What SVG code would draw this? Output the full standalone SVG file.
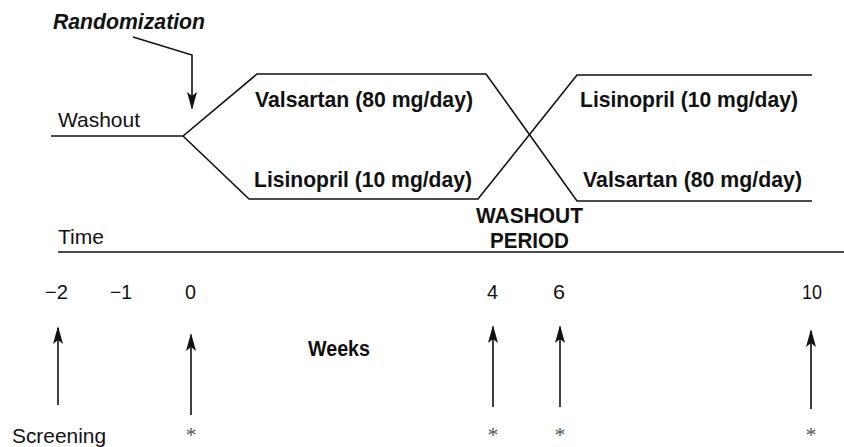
<svg xmlns="http://www.w3.org/2000/svg" width="844" height="447" viewBox="0 0 844 447">
<defs>
<style>
.t{font-family:"Liberation Sans",Arial,sans-serif;fill:#111;}
.b{font-weight:bold;font-size:22px;}
.r{font-size:21px;}
.n{font-size:20px;}
.ln{stroke:#111;stroke-width:1.6;fill:none;}
.ast{font-family:"Liberation Serif","Times New Roman",serif;font-size:22px;fill:#555;text-anchor:middle;}
</style>
<marker id="ah" markerWidth="18" markerHeight="11" refX="16" refY="5.5" orient="auto" markerUnits="userSpaceOnUse" viewBox="0 0 18 11">
<path d="M0,0.5 L4,5.5 L0,10.5 L18,5.5 Z" fill="#111"/>
</marker>
</defs>
<rect width="844" height="447" fill="#fff"/>
<g id="connectors">
<path class="ln" d="M51,136 L183,136 L257,74 L486,74 L577,201 L812,201"/>
<path class="ln" d="M183,136 L249,199 L478,199 L577,75 L812,75"/>
<path class="ln" d="M58,252 L844,252"/>
<path class="ln" d="M133,37 L192,55 L192,108" marker-end="url(#ah)"/>
<path class="ln" d="M58,405 L58,328" marker-end="url(#ah)"/>
<path class="ln" d="M191,415 L191,335" marker-end="url(#ah)"/>
<path class="ln" d="M493,407 L493,327" marker-end="url(#ah)"/>
<path class="ln" d="M560,407 L560,327" marker-end="url(#ah)"/>
<path class="ln" d="M811,409 L811,331" marker-end="url(#ah)"/>
</g>
<g id="randomization"><text class="t b" x="53" y="29" font-style="italic" textLength="152" lengthAdjust="spacingAndGlyphs">Randomization</text></g>
<g id="washout"><text class="t r" x="58" y="127" textLength="82" lengthAdjust="spacingAndGlyphs">Washout</text></g>
<g id="arm1-period1"><text class="t b" x="255" y="107" textLength="218" lengthAdjust="spacingAndGlyphs">Valsartan (80 mg/day)</text></g>
<g id="arm2-period1"><text class="t b" x="254" y="187" textLength="218" lengthAdjust="spacingAndGlyphs">Lisinopril (10 mg/day)</text></g>
<g id="arm1-period2"><text class="t b" x="580" y="107" textLength="218" lengthAdjust="spacingAndGlyphs">Lisinopril (10 mg/day)</text></g>
<g id="arm2-period2"><text class="t b" x="583" y="187" textLength="219" lengthAdjust="spacingAndGlyphs">Valsartan (80 mg/day)</text></g>
<g id="washout-period">
<text class="t b" x="476" y="223" textLength="107" lengthAdjust="spacingAndGlyphs">WASHOUT</text>
<text class="t b" x="490" y="248" textLength="79" lengthAdjust="spacingAndGlyphs">PERIOD</text>
</g>
<g id="time"><text class="t n" x="58" y="244" textLength="46" lengthAdjust="spacingAndGlyphs">Time</text></g>
<g id="ticks">
<text class="t n" x="45" y="299" textLength="23" lengthAdjust="spacingAndGlyphs">−2</text>
<text class="t n" x="110" y="299" textLength="22" lengthAdjust="spacingAndGlyphs">−1</text>
<text class="t n" x="185" y="299" textLength="11" lengthAdjust="spacingAndGlyphs">0</text>
<text class="t n" x="487" y="299" textLength="11" lengthAdjust="spacingAndGlyphs">4</text>
<text class="t n" x="553" y="299" textLength="12" lengthAdjust="spacingAndGlyphs">6</text>
<text class="t n" x="802" y="299" textLength="20" lengthAdjust="spacingAndGlyphs">10</text>
</g>
<g id="weeks"><text class="t b" x="308" y="356" font-size="21" textLength="62" lengthAdjust="spacingAndGlyphs">Weeks</text></g>
<g id="screening"><text class="t r" x="12" y="443" textLength="94" lengthAdjust="spacingAndGlyphs">Screening</text></g>
<g id="asterisks">
<text class="ast" x="191" y="442">*</text>
<text class="ast" x="493" y="442">*</text>
<text class="ast" x="560" y="442">*</text>
<text class="ast" x="811" y="442">*</text>
</g>
</svg>
